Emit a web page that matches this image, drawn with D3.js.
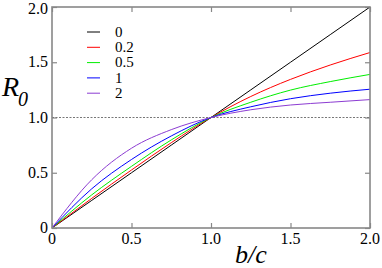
<!DOCTYPE html>
<html>
<head>
<meta charset="utf-8">
<script src="https://cdn.jsdelivr.net/npm/d3@7"></script>
<style>
  body { margin: 0; background: #fff; }
  #chart { position: relative; width: 382px; height: 268px; overflow: hidden; }
  svg { display: block; }
  .lbl { position: absolute; line-height: 1; white-space: nowrap; color: #000; }
</style>
</head>
<body>
<div id="chart"></div>
<script>
// values
const xs = [0, 0.25, 0.5, 0.75, 1, 1.25, 1.5, 1.75, 2];
const r0_0 = [0, 0.25, 0.5, 0.75, 1, 1.25, 1.5, 1.75, 2];
const r0_02 = [0, 0.268, 0.525, 0.772, 1, 1.19, 1.345, 1.475, 1.588];
const r0_05 = [0, 0.30, 0.558, 0.797, 1, 1.138, 1.248, 1.325, 1.39];
const r0_1 = [0, 0.355, 0.62, 0.833, 1, 1.097, 1.17, 1.22, 1.256];
const r0_2 = [0, 0.437, 0.722, 0.89, 1, 1.07, 1.113, 1.138, 1.162];

const seriesNames = ['0', '0.2', '0.5', '1', '2'];
const seriesValues = [r0_0, r0_02, r0_05, r0_1, r0_2];
const colors = ['#000000', '#ff0000', '#00ee00', '#0000ff', '#8c3cd2'];

const xTicks = [0, 0.5, 1, 1.5, 2];
const yTicks = [0, 0.5, 1, 1.5, 2];

const width = 382, height = 268;
const m = { left: 52, right: 370, top: 7, bottom: 228 };

const chart = d3.select('#chart');
const svg = chart.append('svg').attr('width', width).attr('height', height);

const x = d3.scaleLinear().domain([0, 2]).range([m.left, m.right]);
const y = d3.scaleLinear().domain([0, 2]).range([m.bottom, m.top]);

const fmt = d => (d === 0 ? '0' : d3.format('.1f')(d));
const axisColor = '#888';

// html text; line-height 1 puts the baseline ~0.8375em below the box top
function label(text, px, py, size, anchor, italic) {
  const d = chart.append('div').attr('class', 'lbl')
    .style('font-family', "'Liberation Serif', 'Times New Roman', Times, serif", 'important')
    .style('font-size', size + 'px')
    .style('font-style', italic ? 'italic' : 'normal')
    .style('top', (py - 0.8375 * size) + 'px')
    .text(text);
  const w = d.node().getBoundingClientRect().width;
  const lx = anchor === 'middle' ? px - w / 2 : anchor === 'end' ? px - w : px;
  d.style('left', lx + 'px');
  return d;
}

// axes with inward ticks, labels drawn as html
function styleAxis(g) {
  g.select('.domain').remove();
  g.selectAll('text').remove();
  g.selectAll('line').attr('stroke', axisColor).attr('stroke-width', 1.2);
}

svg.append('g')
  .attr('transform', `translate(0,${m.bottom})`)
  .call(d3.axisBottom(x).tickValues(xTicks).tickSizeInner(-5).tickSizeOuter(0))
  .call(styleAxis);

svg.append('g')
  .attr('transform', `translate(${m.left},0)`)
  .call(d3.axisLeft(y).tickValues(yTicks).tickSizeInner(-5).tickSizeOuter(0))
  .call(styleAxis);

svg.append('g')
  .attr('transform', `translate(0,${m.top})`)
  .call(d3.axisTop(x).tickValues(xTicks).tickSizeInner(-5).tickSizeOuter(0))
  .call(styleAxis);

svg.append('g')
  .attr('transform', `translate(${m.right},0)`)
  .call(d3.axisRight(y).tickValues(yTicks).tickSizeInner(-5).tickSizeOuter(0))
  .call(styleAxis);

xTicks.forEach(t => label(fmt(t), x(t), 244, 16, 'middle', false));
// top label sits a little low in the reference so it stays inside the picture
yTicks.forEach(t => label(fmt(t), 48, Math.max(y(t) + 5.5, 14), 16, 'end', false));

// dotted reference line at R0 = 1
svg.append('line')
  .attr('x1', x(0)).attr('x2', x(2))
  .attr('y1', y(1)).attr('y2', y(1))
  .attr('stroke', '#777')
  .attr('stroke-width', 1)
  .attr('stroke-dasharray', '2,1.5');

const line = d3.line()
  .x((d, i) => x(xs[i]))
  .y(d => y(d))
  .curve(d3.curveMonotoneX);

svg.selectAll('path.series')
  .data(seriesValues)
  .enter()
  .append('path')
  .attr('class', 'series')
  .attr('d', line)
  .attr('fill', 'none')
  .attr('stroke', (d, i) => colors[i])
  .attr('stroke-width', 1);

// frame
svg.append('rect')
  .attr('x', m.left).attr('y', m.top)
  .attr('width', m.right - m.left).attr('height', m.bottom - m.top)
  .attr('fill', 'none')
  .attr('stroke', axisColor)
  .attr('stroke-width', 1.6);

// legend
seriesNames.forEach((name, i) => {
  const ly = 32 + i * 15.3;
  svg.append('line')
    .attr('x1', 87).attr('x2', 100)
    .attr('y1', ly).attr('y2', ly)
    .attr('stroke', colors[i])
    .attr('stroke-width', 1);
  label(name, 115, ly + 5.2, 15, 'start', false);
});

// axis titles
label('R', 2, 96, 28, 'start', true);
label('0', 18, 106, 20, 'start', true);
label('b/c', 251, 264, 26, 'middle', true);
</script>
</body>
</html>
